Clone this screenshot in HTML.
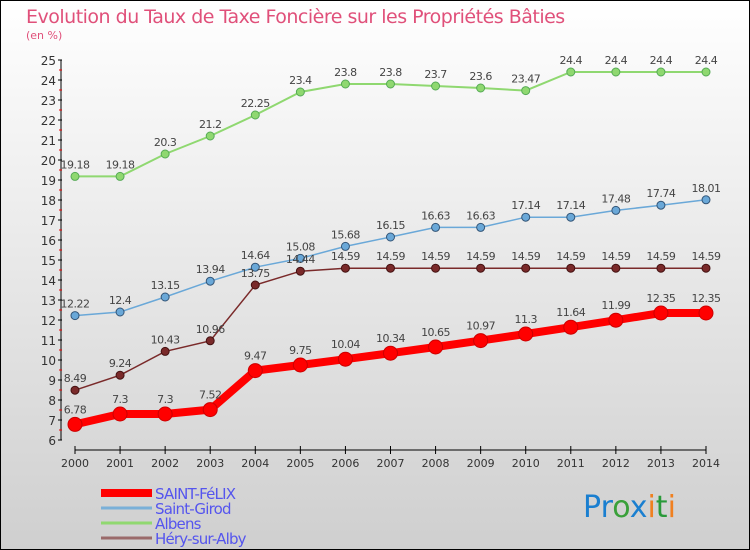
<!DOCTYPE html>
<html><head><meta charset="utf-8"><style>
body{margin:0}
#c{position:relative;width:748px;height:548px;border:1px solid #000;background:linear-gradient(#fff,#cfcfcf);font-family:"DejaVu Sans","Liberation Sans",sans-serif;overflow:hidden}
</style></head><body>
<div id="c">
<svg id="s" width="748" height="548">
<text x="25" y="22" font-size="19" fill="#e0507a" style="font-family:'DejaVu Sans',sans-serif;letter-spacing:-0.5px">Evolution du Taux de Taxe Foncière sur les Propriétés Bâties</text>
<text x="25" y="38" font-size="11" fill="#e0507a">(en %)</text>
<g id="axes"></g><g id="series"></g><g id="legend"></g>
<text x="582" y="516" font-size="30" style="font-family:'DejaVu Sans',sans-serif"><tspan fill="#1a7fd0">Pr</tspan><tspan fill="#3aa03a">o</tspan><tspan fill="#1a7fd0">x</tspan><tspan fill="#f08020">i</tspan><tspan fill="#2a9a3a">t</tspan><tspan fill="#f08020">i</tspan></text>
</svg></div>
<script>
const years=[2000,2001,2002,2003,2004,2005,2006,2007,2008,2009,2010,2011,2012,2013,2014];
const yTicks=[6,7,8,9,10,11,12,13,14,15,16,17,18,19,20,21,22,23,24,25];
const saintFelix=[6.78,7.3,7.3,7.52,9.47,9.75,10.04,10.34,10.65,10.97,11.3,11.64,11.99,12.35,12.35];
const saintGirod=[12.22,12.4,13.15,13.94,14.64,15.08,15.68,16.15,16.63,16.63,17.14,17.14,17.48,17.74,18.01];
const albens=[19.18,19.18,20.3,21.2,22.25,23.4,23.8,23.8,23.7,23.6,23.47,24.4,24.4,24.4,24.4];
const hery=[8.49,9.24,10.43,10.96,13.75,14.44,14.59,14.59,14.59,14.59,14.59,14.59,14.59,14.59,14.59];
const NS='http://www.w3.org/2000/svg';
const X=i=>74+i*(705-74)/14, Y=v=>439-(v-6)*20;
function el(t,a,p){const e=document.createElementNS(NS,t);for(const k in a)e.setAttribute(k,a[k]);p.appendChild(e);return e;}
const ax=document.getElementById('axes');
let l=el('line',{x1:60,y1:Y(25),x2:60,y2:Y(6),stroke:'#000'},ax);

yTicks.forEach(v=>{
 el('line',{x1:57,x2:61,y1:Y(v),y2:Y(v),stroke:'#000'},ax);
 el('line',{x1:58,x2:61,y1:Y(v+0.5),y2:Y(v+0.5),stroke:v<25?'#e00':'none'},ax);
 const t=el('text',{x:55,y:Y(v)+5,'font-size':12,'text-anchor':'end',fill:'#333'},ax);t.textContent=v;
 
});
l=el('line',{x1:X(0),y1:449,x2:X(14),y2:449,stroke:'#000'},ax);

years.forEach((y,i)=>{
 el('line',{x1:X(i),x2:X(i),y1:445,y2:453,stroke:'#000'},ax);
 const t=el('text',{x:X(i),y:466,'font-size':11,'text-anchor':'middle',fill:'#333'},ax);t.textContent=y;
 
});
const sg=document.getElementById('series');
function series(d,col,w,r,name,dark){
 const g=el('g',{},sg);
 el('polyline',{points:d.map((v,i)=>X(i)+','+Y(v)).join(' '),fill:'none',stroke:col,'stroke-width':w},g);
 d.forEach((v,i)=>{const c=el('circle',{cx:X(i),cy:Y(v),r:r,fill:col,stroke:dark,'stroke-width':1},g);
  
  const t=el('text',{x:X(i),y:Y(v)-8-(r>4?3:0),'font-size':11,'text-anchor':'middle',fill:'#444','letter-spacing':'-0.5'},g);t.textContent=v;
  });
}
series(albens,'#8fd870',2,4,'albens-series','#5a5');
series(saintGirod,'#6aa8d8',1.5,4,'saint-girod-series','#357');
series(hery,'#7a2a2a',1.5,4,'hery-series','#411');
series(saintFelix,'#f00',8,7,'saint-felix-series','#c00');
const lg=document.getElementById('legend');
[['SAINT-FéLIX','#f00',8],['Saint-Girod','#7ab0d8',3],['Albens','#90d870',3],['Héry-sur-Alby','#9a6a6a',3]].forEach((e,i)=>{
 const g=el('g',{},lg);
 el('line',{x1:100,x2:151,y1:492+i*15,y2:492+i*15,stroke:e[1],'stroke-width':e[2]},g);
 const t=el('text',{x:154,y:498+i*15,'font-size':15,fill:'#55e','letter-spacing':'-0.8'},g);t.textContent=e[0];
});
</script></body></html>
